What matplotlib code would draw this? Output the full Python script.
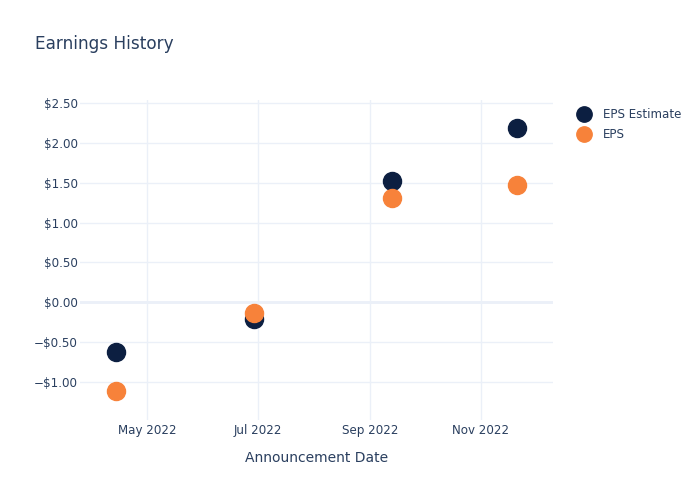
import datetime as dt
import matplotlib
matplotlib.use("Agg")
import matplotlib.pyplot as plt
import matplotlib.dates as mdates
from matplotlib.ticker import FuncFormatter, FixedLocator

# data
dates = [dt.date(2022, 4, 14), dt.date(2022, 6, 29), dt.date(2022, 9, 13), dt.date(2022, 11, 21)]
eps_estimate = [-0.62, -0.21, 1.52, 2.19]
eps_actual = [-1.12, -0.13, 1.31, 1.47]
y_ticks = [-1.0, -0.5, 0.0, 0.5, 1.0, 1.5, 2.0, 2.5]

COL_EST = "#0c1f41"
COL_EPS = "#f7823a"
COL_TEXT = "#2a3f5f"
COL_GRID = "#ebf0f8"

plt.rcParams["font.family"] = ["DejaVu Sans"]

fig = plt.figure(figsize=(7, 5), dpi=100)
ax = fig.add_axes([80 / 700, 80 / 500, 473 / 700, 320 / 500])

ax.plot(dates, eps_estimate, linestyle="none", marker="o", markersize=13,
        color=COL_EST, label="EPS Estimate", zorder=3)
ax.plot(dates, eps_actual, linestyle="none", marker="o", markersize=13,
        color=COL_EPS, label="EPS", zorder=3)

ax.set_xlim(dt.date(2022, 3, 25), dt.date(2022, 12, 11))
ax.set_ylim(-1.48, 2.54)

ax.xaxis.set_major_locator(mdates.MonthLocator(bymonth=[5, 7, 9, 11]))
ax.xaxis.set_major_formatter(mdates.DateFormatter("%b %Y"))
ax.yaxis.set_major_locator(FixedLocator(y_ticks))


def money(v, pos):
    s = f"${abs(v):.2f}"
    return "\u2212" + s if v < 0 else s


ax.yaxis.set_major_formatter(FuncFormatter(money))

ax.grid(True, color=COL_GRID, linewidth=1, zorder=0)
ax.axhline(0, color=COL_GRID, linewidth=2, zorder=1)
for s in ax.spines.values():
    s.set_visible(False)
ax.tick_params(length=0, labelsize=8.6, labelcolor=COL_TEXT)
ax.tick_params(axis="y", pad=1.5)
ax.tick_params(axis="x", pad=3)

ax.set_xlabel("Announcement Date", fontsize=10, color=COL_TEXT, labelpad=10)
fig.text(35 / 700, 1 - 44 / 500, "Earnings History", fontsize=12.2,
         color=COL_TEXT, va="center", ha="left")

fig.legend(loc="upper left", bbox_to_anchor=(572 / 700, 1 - 108 / 500),
           frameon=False, fontsize=8.6, labelcolor=COL_TEXT, handletextpad=0.6,
           labelspacing=0.6, markerscale=0.85, borderaxespad=0, borderpad=0)

fig.savefig("out.png", dpi=100)
